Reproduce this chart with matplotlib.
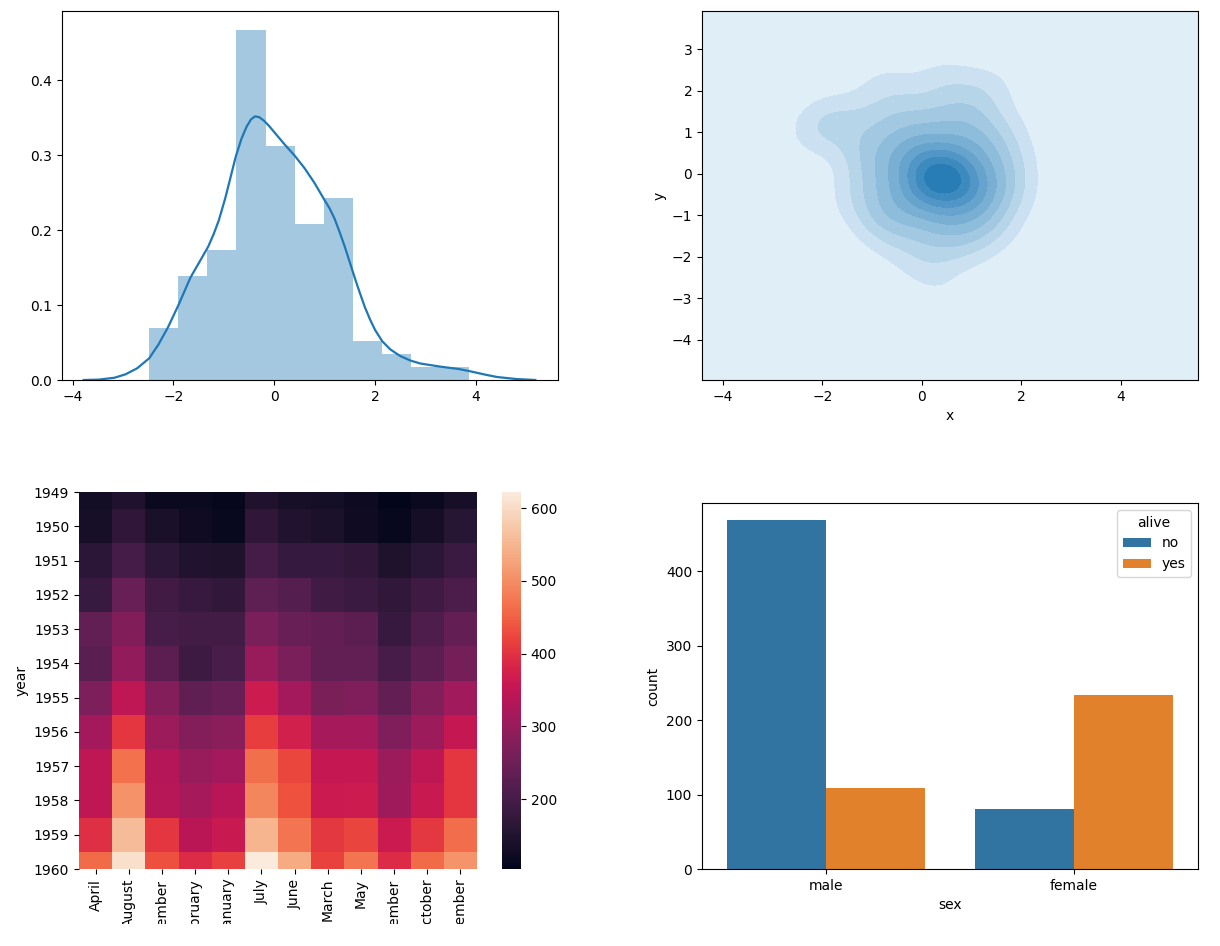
import colorsys
import numpy as np
import matplotlib
matplotlib.use('Agg')
import matplotlib.pyplot as plt
import seaborn as sns
from matplotlib.colors import LinearSegmentedColormap, to_rgb
from matplotlib.transforms import Bbox, TransformedBbox

# ---- data ----
# histogram (100 samples): bin edge span and counts per bin
hist_lo, hist_hi = -2.48, 3.87
hist_counts = [4, 8, 10, 27, 18, 12, 14, 3, 2, 1, 1]
# kde curve
kde_x = [-3.78, -3.48, -3.17, -2.95, -2.72, -2.48, -2.3, -2.11, -1.9, -1.66, -1.48,
         -1.31, -1.2, -1.1, -0.97, -0.85, -0.76, -0.65, -0.55, -0.46, -0.38, -0.3,
         -0.2, -0.1, 0.0, 0.2, 0.4, 0.6, 0.8, 1.0, 1.1, 1.2, 1.3, 1.4, 1.5, 1.6, 1.7,
         1.8, 1.9, 2.0, 2.14, 2.3, 2.5, 2.7, 2.9, 3.28, 3.66, 3.89, 4.19, 4.42, 4.8, 5.18]
kde_y = [0.0, 0.0005, 0.003, 0.0076, 0.0156, 0.029, 0.047, 0.07, 0.1, 0.137, 0.158,
         0.178, 0.195, 0.213, 0.243, 0.275, 0.299, 0.322, 0.338, 0.348, 0.352, 0.351,
         0.346, 0.339, 0.331, 0.315, 0.300, 0.283, 0.263, 0.24, 0.229, 0.215, 0.197,
         0.178, 0.157, 0.136, 0.116, 0.097, 0.081, 0.067, 0.052, 0.041, 0.032, 0.026,
         0.022, 0.018, 0.0147, 0.0116, 0.0071, 0.004, 0.0013, 0.0]

# 2d sample points (estimated from the contour shape)
pts_x = [0.3, 0.5, 0.1, 0.4, 0.6, 0.2, 0.0, 0.7, 0.35, 0.55, 0.25, 0.45, 0.15, 0.65,
         -0.4, -0.3, 0.9, 1.1, 0.1, 0.6, -0.5, 0.3, 1.0, -0.2, 0.8, -0.1, 1.2, -0.6,
         0.5, 1.1, -0.4, 0.0, 0.8, -0.1, 0.9,
         -0.9, -0.6, 0.2, 0.9, 1.3, 1.6, 1.5, 1.3, 0.7, 0.0, -0.7, -1.0, -1.1, 1.0,
         -0.3, 1.6, 0.4, -0.5, 1.1, -0.9, 0.5, 1.4, -1.0,
         -1.5, -1.3, -1.4, -0.9, -0.4, 0.3, 1.0, 1.5, 1.8, 1.8, 1.7, 1.2, 0.6, -0.3, -0.9,
         -2.0, -2.2, -1.8, -0.8, 0.4, 1.4, 0.1,
         -2.9, 3.5, 0.6]
pts_y = [-0.1, -0.2, 0.1, 0.2, 0.05, -0.4, -0.2, -0.35, -0.5, 0.3, 0.0, -0.05, -0.15, -0.2,
         0.3, -0.5, -0.6, 0.1, 0.8, 0.8, -0.1, -0.9, 0.5, 0.7, -0.9, -0.8, -0.3, 0.4,
         -1.0, -0.6, -0.6, 0.6, 0.6, 0.4, -0.2,
         0.9, 1.1, 1.3, 1.2, 0.9, 0.2, -0.6, -1.0, -1.4, -1.3, -1.0, -0.3, 0.4, 1.4,
         1.3, -0.2, -1.5, -1.2, -1.3, -0.8, 1.4, 0.6, 0.0,
         1.2, 0.6, -0.6, -1.3, -1.8, -2.0, -1.8, -1.3, -0.5, 0.3, 1.1, 1.8, 2.0, 1.8, 1.6,
         1.1, 1.0, 1.5, 2.3, 2.4, 2.2, -2.4,
         -0.2, -0.6, -3.3]

# flights
months = ['January', 'February', 'March', 'April', 'May', 'June', 'July',
          'August', 'September', 'October', 'November', 'December']
years = list(range(1949, 1961))
passengers = [
    [112, 118, 132, 129, 121, 135, 148, 148, 136, 119, 104, 118],
    [115, 126, 141, 135, 125, 149, 170, 170, 158, 133, 114, 140],
    [145, 150, 178, 163, 172, 178, 199, 199, 184, 162, 146, 166],
    [171, 180, 193, 181, 183, 218, 230, 242, 209, 191, 172, 194],
    [196, 196, 236, 235, 229, 243, 264, 272, 237, 211, 180, 201],
    [204, 188, 235, 227, 234, 264, 302, 293, 259, 229, 203, 229],
    [242, 233, 267, 269, 270, 315, 364, 347, 312, 274, 237, 278],
    [284, 277, 317, 313, 318, 374, 413, 405, 355, 306, 271, 306],
    [315, 301, 356, 348, 355, 422, 465, 467, 404, 347, 305, 336],
    [340, 318, 362, 348, 363, 435, 491, 505, 404, 359, 310, 337],
    [360, 342, 406, 396, 420, 472, 548, 559, 463, 407, 362, 405],
    [417, 391, 419, 461, 472, 535, 622, 606, 508, 461, 390, 432],
]

# titanic counts
sexes = ['male', 'female']
alive_levels = ['no', 'yes']
alive_counts = {'no': [468, 81], 'yes': [109, 233]}

# ---- figure ----
W, H = 1220, 946
fig = plt.figure(figsize=(W / 100, H / 100), dpi=100)


def px_axes(l, t, r, b):
    return fig.add_axes([l / W, 1 - b / H, (r - l) / W, (b - t) / H])


# top left: histogram + kde
ax1 = px_axes(62, 11.5, 558, 380)
edges = np.linspace(hist_lo, hist_hi, len(hist_counts) + 1)
width = edges[1] - edges[0]
dens = np.array(hist_counts) / (sum(hist_counts) * width)
ax1.bar(edges[:-1], dens, width=width, align='edge', color='#1f77b4', alpha=0.4, linewidth=0)
ax1.plot(kde_x, kde_y, color='#1f77b4', lw=1.6)
ax1.set_xlim(-4.21, 5.63)
ax1.set_ylim(0, 0.492)

# top right: 2d kde, shaded
ax2 = px_axes(702, 11.5, 1198, 380)
xx, yy = np.meshgrid(np.linspace(-4.42, 5.55, 220), np.linspace(-4.97, 3.91, 220))
bw = 0.46
z = np.zeros_like(xx)
for px, py in zip(pts_x, pts_y):
    z += np.exp(-((xx - px) ** 2 + (yy - py) ** 2) / (2 * bw ** 2))
z /= len(pts_x) * 2 * np.pi * bw ** 2
base = to_rgb('#1f77b4')
h, l, s = colorsys.rgb_to_hls(*base)
light = colorsys.hls_to_rgb(h, 0.95, s)
cmap_b = LinearSegmentedColormap.from_list('blue_light', [light, base])
ax2.contourf(xx, yy, z, levels=np.linspace(0, z.max(), 11), cmap=cmap_b)
ax2.set_xlim(-4.42, 5.55)
ax2.set_ylim(-4.97, 3.91)
ax2.set_xlabel('x')
ax2.set_ylabel('y')

# bottom left: heatmap (months in alphabetical order)
ax3 = px_axes(79, 492, 477, 869)
cax = px_axes(502, 492, 521, 869)
order = sorted(months)
grid = np.array([[row[months.index(m)] for m in order] for row in passengers])
rocket = sns.color_palette('rocket', as_cmap=True)
mesh = ax3.pcolormesh(grid, cmap=rocket, vmin=grid.min(), vmax=grid.max())
ax3.set_xlim(0, len(order))
ax3.set_ylim(11.5, 0.5)
ax3.set_xticks(np.arange(len(order)) + 0.5)
ax3.set_xticklabels(order, rotation=90)
ax3.set_yticks(np.arange(len(years)) + 0.5)
ax3.set_yticklabels(years, rotation=0)
ax3.set_ylabel('year')
for sp in ax3.spines.values():
    sp.set_visible(False)
cb = fig.colorbar(mesh, cax=cax)
cb.outline.set_linewidth(0)
# month names run off the bottom of the figure in the original
clip = TransformedBbox(Bbox([[0, 22 / H], [1, 1]]), fig.transFigure)
for lab in ax3.get_xticklabels():
    lab.set_clip_box(clip)
    lab.set_clip_on(True)

# bottom right: countplot
ax4 = px_axes(702, 503, 1198, 869)
colors = {'no': '#3274a1', 'yes': '#e1812c'}
xpos = np.arange(len(sexes))
for i, lvl in enumerate(alive_levels):
    ax4.bar(xpos - 0.4 + i * 0.4, alive_counts[lvl], width=0.4, align='edge',
            color=colors[lvl], label=lvl)
ax4.set_xticks(xpos)
ax4.set_xticklabels(sexes)
ax4.set_xlim(-0.5, 1.5)
ax4.set_ylim(0, 491.4)
ax4.set_xlabel('sex')
ax4.set_ylabel('count')
ax4.legend(title='alive', loc='upper right')

fig.savefig('out.png', dpi=100)
